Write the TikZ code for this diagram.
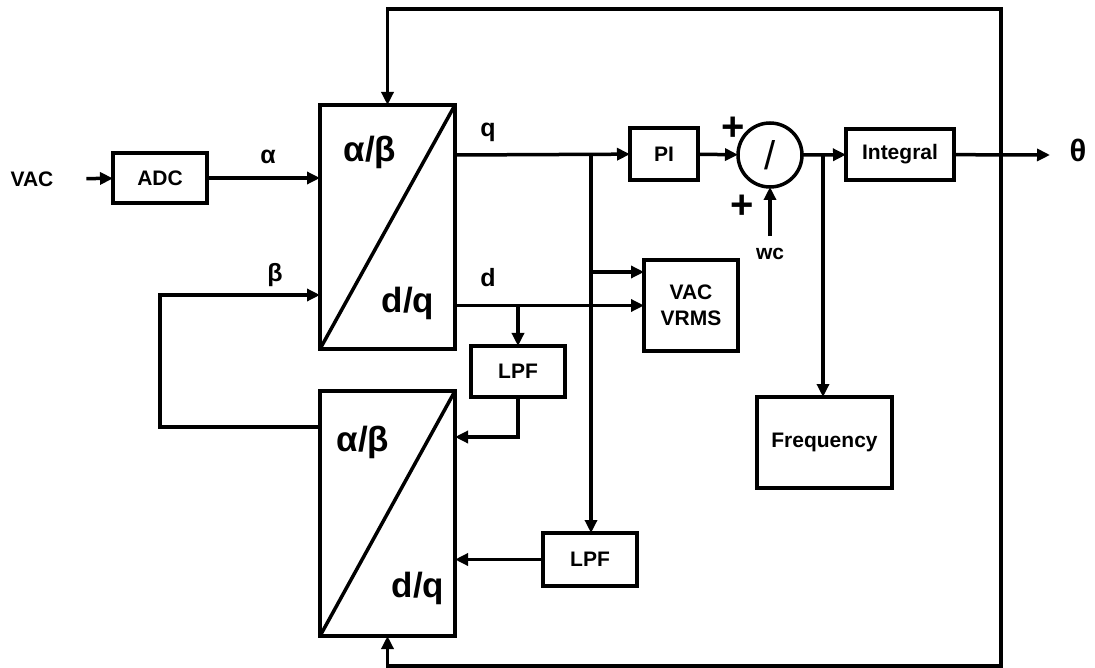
\documentclass[tikz,border=0pt]{standalone}
\usepackage{fontspec}
\setmainfont{Liberation Sans}
\usetikzlibrary{arrows.meta,positioning,calc}
\tikzset{
  >={Triangle[length=13pt,width=12pt]},
  every path/.style={line width=3.5pt},
  blk/.style={draw,line width=3.5pt,inner sep=0pt,outer sep=0pt,align=center,
    font=\bfseries\fontsize{21}{26}\selectfont},
  lbl/.style={font=\bfseries\fontsize{21}{25}\selectfont},
  sig/.style={font=\bfseries\fontsize{25}{29}\selectfont},
  big/.style={font=\bfseries\fontsize{35}{38}\selectfont},
  sumnode/.style={circle,draw,line width=3.5pt,minimum size=64pt,inner sep=0pt,outer sep=0pt,
    font=\fontsize{40}{42}\selectfont},
}
\begin{document}
\begin{tikzpicture}[x=1pt,y=-1pt]
  \useasboundingbox (0,0) rectangle (1095,668);
  % blocks
  \node[lbl] (vac) at (32,179) {VAC};
  \node[blk,minimum width=94pt,minimum height=50pt] (adc) at (160,178) {ADC};
  \node[blk,minimum width=135pt,minimum height=244pt] (t1) at (387.5,227) {};
  \node[blk,minimum width=135pt,minimum height=245pt] (t2) at (387.5,513.5) {};
  \draw (t1.south west) -- (t1.north east) (t2.south west) -- (t2.north east);
  \node[big] (t1ab) at (370,152) {α/β};
  \node[big] (t1dq) at (408,303) {d/q};
  \node[big] (t2ab) at (363,442) {α/β};
  \node[big] (t2dq) at (418,588) {d/q};
  \node[blk,minimum width=68pt,minimum height=52pt] (pi) at (664,154) {PI};
  \node[sumnode] (div) at (770,155) {/};
  \node[blk,minimum width=108pt,minimum height=51pt] (int) at (900,154.5) {Integral};
  \node[blk,minimum width=135pt,minimum height=91pt] (freq) at (824.5,442.5) {Frequency};
  \node[blk,minimum width=94pt,minimum height=91pt] (vrms) at (691,305.5) {VAC\\VRMS};
  \node[blk,minimum width=94pt,minimum height=51pt] (lpf1) at (518,371.5) {LPF};
  \node[blk,minimum width=94pt,minimum height=53pt] (lpf2) at (590,559.5) {LPF};
  % labels
  \node[sig] (alpha) at (268,157) {α};
  \node[sig] (beta) at (275,275) {β};
  \node[sig] (qlbl) at (488,132) {q};
  \node[sig] (dlbl) at (488,278) {d};
  \node[lbl] (wc) at (770,254) {wc};
  \node[font=\bfseries\fontsize{40}{42}\selectfont] (plus1) at (733,129) {+};
  \node[font=\bfseries\fontsize{40}{42}\selectfont] (plus2) at (742,207) {+};
  \node[font=\bfseries\fontsize{31}{33}\selectfont] (theta) at (1078,150) {θ};
  % taps
  \coordinate (qtap) at (591,155);
  \coordinate (dtap) at (518,305);
  \coordinate (ftap) at (823,155);
  \coordinate (fb) at (1001,155);
  \coordinate (thout) at (1050,155);
  \coordinate (vin) at ($(vrms.north west)+(0,12)$);
  \coordinate (t1in) at ($(t1.north west)+(0,190)$);
  \coordinate (t2out) at ($(t2.north west)+(0,36)$);
  \coordinate (t2in) at ($(t2.north east)+(0,46)$);
  % wires
  \draw[->,shorten <=28pt] (vac) -- (adc);
  \draw[->] (adc) -- (adc -| t1.west);
  \draw[->] (t2out) -- ++(-160,0) |- (t1in);
  \draw[->] (t1.east |- qtap) -- (pi);
  \draw[->] (pi) -- (div);
  \draw[->] (div) -- (int);
  \draw[->] (int) -- (thout);
  \draw[->,shorten <=7pt] (wc) -- (div);
  \draw[->] (ftap) -- (ftap |- freq.north);
  \draw[->] (fb) -- ++(0,-146) -| (t1.north);
  \draw[->] (fb) -- ++(0,511) -| (t2.south);
  \draw[->] (qtap) -- (qtap |- lpf2.north);
  \draw[->] (qtap |- vin) -- (vin);
  \draw[->] (t1.east |- vrms.west) -- (vrms.west);
  \draw[->] (dtap) -- (lpf1.north);
  \draw[->] (lpf1.south) |- (t2in);
  \draw[->] (lpf2.west) -- (lpf2.west -| t2.east);
\end{tikzpicture}
\end{document}
